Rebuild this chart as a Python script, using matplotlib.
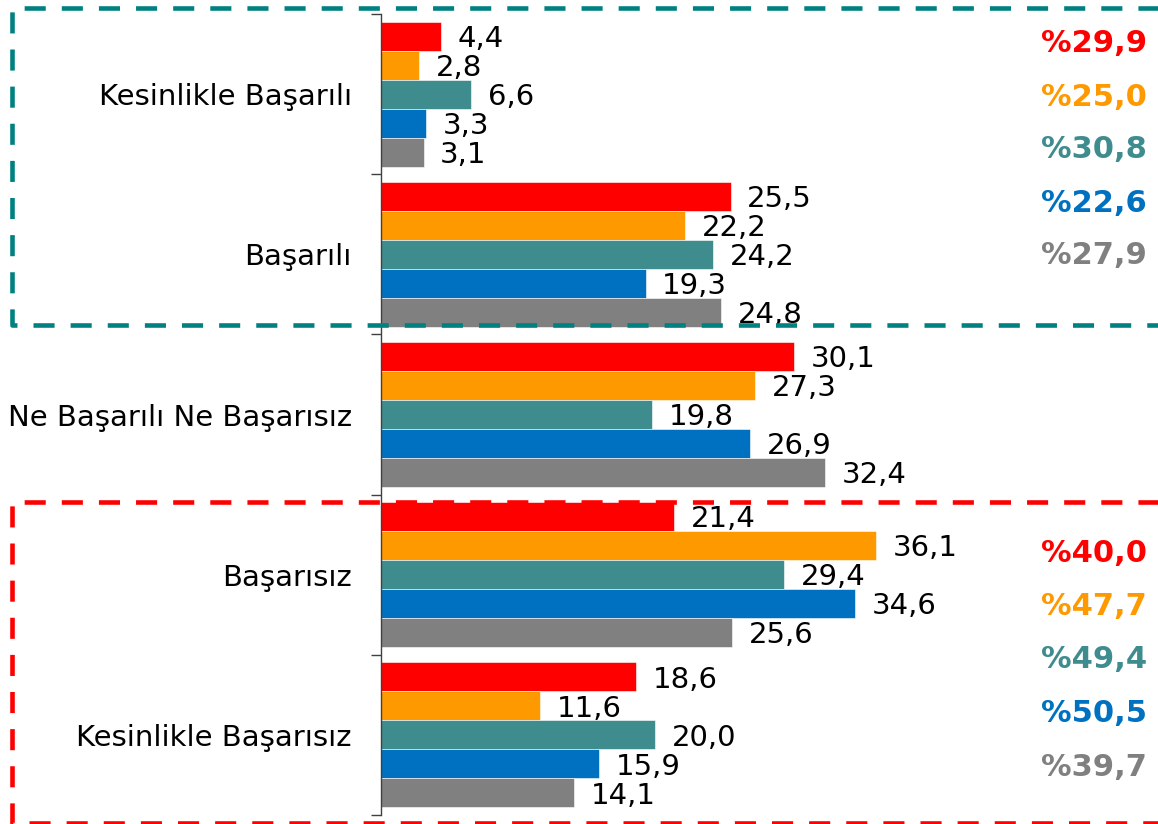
import matplotlib
matplotlib.use("Agg")
import matplotlib.pyplot as plt
from matplotlib.lines import Line2D
import numpy as np

# categories top to bottom
categories = ["Kesinlikle Başarılı", "Başarılı", "Ne Başarılı Ne Başarısız",
              "Başarısız", "Kesinlikle Başarısız"]
colors = ["#FF0000", "#FF9900", "#3F8C8F", "#0070C0", "#808080"]

# one list per series (5 series, colour order above)
s_red = [4.4, 25.5, 30.1, 21.4, 18.6]
s_orange = [2.8, 22.2, 27.3, 36.1, 11.6]
s_teal = [6.6, 24.2, 19.8, 29.4, 20.0]
s_blue = [3.3, 19.3, 26.9, 34.6, 15.9]
s_gray = [3.1, 24.8, 32.4, 25.6, 14.1]
series = [s_red, s_orange, s_teal, s_blue, s_gray]

# summary percentages on the right
top_totals = ["%29,9", "%25,0", "%30,8", "%22,6", "%27,9"]
bottom_totals = ["%40,0", "%47,7", "%49,4", "%50,5", "%39,7"]

W, H = 1158, 824
fig = plt.figure(figsize=(W / 100, H / 100), dpi=100)

def fx(px):
    return px / W

def fy(py):
    return 1 - py / H

ax = fig.add_axes([fx(381), fy(815), fx(1158 - 381), (815 - 14) / H])

bh = 0.181
y = np.arange(len(categories))
for j, (vals, c) in enumerate(zip(series, colors)):
    pos = y + (j - 2) * bh
    ax.barh(pos, vals, height=bh, color=c, edgecolor="white", linewidth=0.4)
    for p, v in zip(pos, vals):
        ax.annotate(f"{v:.1f}".replace(".", ","), (v, p), xytext=(12, -2),
                    textcoords="offset points", va="center", ha="left",
                    fontsize=21, color="black")

ax.set_xlim(0, 777 / 13.71)
ax.set_ylim(len(categories) - 0.5, -0.5)
ax.set_yticks(y)
ax.set_yticklabels(categories, fontsize=21)
ax.tick_params(axis="y", which="major", length=0, pad=21)
ax.set_yticks(np.arange(-0.5, len(categories)), minor=True)
ax.tick_params(axis="y", which="minor", length=7, width=1, color="#404040")
ax.set_xticks([])
for s in ["top", "right", "bottom"]:
    ax.spines[s].set_visible(False)
ax.spines["left"].set_color("#404040")
ax.spines["left"].set_linewidth(1)

# dashed boxes
def dashed_box(x0, y0, x1, y1, color):
    xs = [x1, x0, x0, x1]
    ys = [y0, y0, y1, y1]
    fig.add_artist(Line2D([fx(v) for v in xs], [fy(v) for v in ys],
                          color=color, linewidth=3.3, linestyle=(0, (4.6, 3.5)),
                          transform=fig.transFigure))

dashed_box(12, 8, 1175, 325, "#008080")
dashed_box(12, 502, 1175, 823, "#FF0000")

for i, (t, c) in enumerate(zip(top_totals, colors)):
    fig.text(fx(1147), fy(44 + i * 53), t, color=c, fontsize=22,
             fontweight="bold", ha="right", va="center")
for i, (t, c) in enumerate(zip(bottom_totals, colors)):
    fig.text(fx(1147), fy(553 + i * 53.5), t, color=c, fontsize=22,
             fontweight="bold", ha="right", va="center")

fig.savefig("out.png", dpi=100)
